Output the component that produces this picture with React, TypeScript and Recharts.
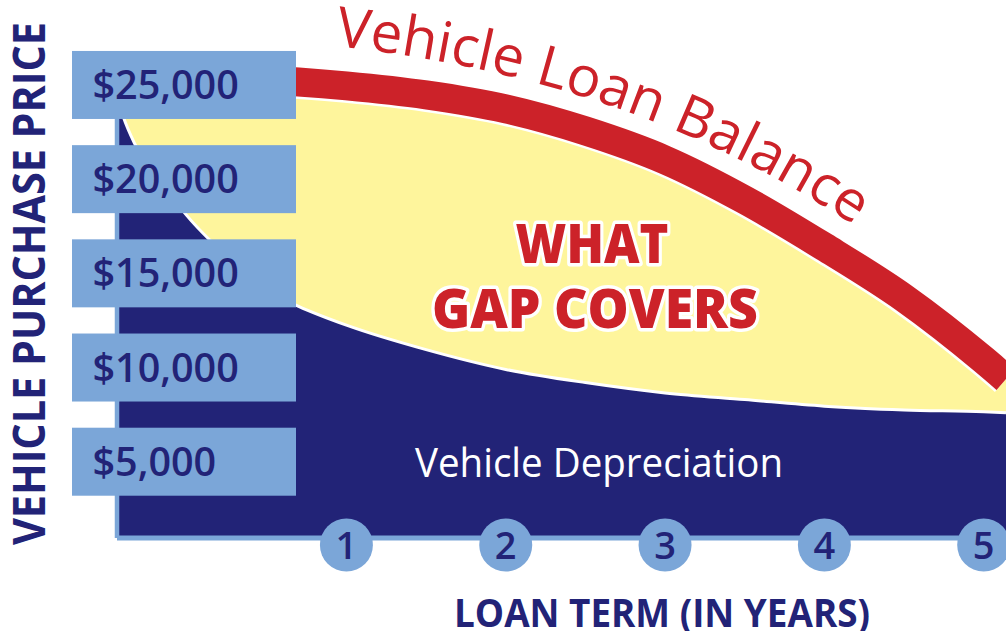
import React from 'react';
import { ComposedChart, Area, Line, XAxis, YAxis } from 'recharts';

// Loan term in years (x) and dollar values
const years = [-0.44, -0.4, -0.33, -0.17, 0, 0.25, 0.5, 0.7, 1, 1.5, 2, 2.5, 3, 3.5, 4, 4.5, 5, 5.14];
const loanBalance = [25580, 25560, 25530, 25500, 25480, 25370, 25270, 25160, 24950, 24470, 23730, 22560, 21020, 18900, 16400, 13690, 10400, 9390];
const vehicleValue = [24400, 23300, 21900, 19950, 18050, 15900, 14100, 13250, 12250, 10950, 9900, 9200, 8650, 8300, 7950, 7750, 7650, 7600];
const priceTicks = [5000, 10000, 15000, 20000, 25000];
const yearTicks = [1, 2, 3, 4, 5];

const title = 'Vehicle Loan Balance';
const gapLine1 = 'WHAT';
const gapLine2 = 'GAP COVERS';
const depreciationLabel = 'Vehicle Depreciation';
const yTitle = 'VEHICLE PURCHASE PRICE';
const xTitle = 'LOAN TERM (IN YEARS)';

const data = years.map((year, i) => ({ year, loan: loanBalance[i], value: vehicleValue[i] }));

const NAVY = '#222377';
const LIGHT = '#7BA6D8';
const YELLOW = '#FEF59C';
const RED = '#CC2229';
const FONT = "'Open Sans', 'Noto Sans', sans-serif";

const fmt = (v: number) => '$' + v.toLocaleString('en-US');

const PriceTick = (props: any) => {
  const { x, y, payload } = props;
  return (
    <g>
      <rect x={x - 45} y={y - 34} width={224} height={68} fill={LIGHT} />
      <text x={x - 24.5} y={y + 14} fontFamily={FONT} fontWeight={600} fontSize={39.5} fill={NAVY} textAnchor="start">
        {fmt(payload.value)}
      </text>
    </g>
  );
};

const YearTick = (props: any) => {
  const { x, y, payload } = props;
  return (
    <g>
      <circle cx={x} cy={y + 7} r={26.5} fill={LIGHT} />
      <text x={x} y={y + 21} fontFamily={FONT} fontWeight={600} fontSize={38} fill={NAVY} textAnchor="middle">
        {payload.value}
      </text>
    </g>
  );
};

export default function App() {
  return (
    <div style={{ position: 'absolute', left: 0, top: 0, width: 1006, height: 631, background: '#fff', overflow: 'hidden' }}>
      <ComposedChart width={1006} height={631} data={data} margin={{ top: 52, right: 0, bottom: 0, left: 0 }}>
        <Area type="monotone" dataKey="loan" fill={YELLOW} fillOpacity={1} stroke="none" isAnimationActive={false} />
        <Area type="monotone" dataKey="value" fill={NAVY} fillOpacity={1} stroke="#ffffff" strokeWidth={3} isAnimationActive={false} />
        <Line type="monotone" dataKey="loan" stroke="#ffffff" strokeWidth={34} dot={false} activeDot={false} isAnimationActive={false} />
        <Line type="monotone" dataKey="loan" stroke={RED} strokeWidth={29} dot={false} activeDot={false} isAnimationActive={false} />
        <XAxis
          type="number"
          dataKey="year"
          domain={[-0.44, 5.14]}
          allowDataOverflow
          ticks={yearTicks}
          interval={0}
          height={93}
          tickLine={false}
          tickSize={0}
          tickMargin={0}
          axisLine={{ stroke: LIGHT, strokeWidth: 5 }}
          tick={<YearTick />}
        />
        <YAxis
          type="number"
          domain={[950, 26750]}
          allowDataOverflow
          ticks={priceTicks}
          interval={0}
          width={117}
          tickLine={false}
          tickSize={0}
          tickMargin={0}
          axisLine={{ stroke: LIGHT, strokeWidth: 4.5 }}
          tick={<PriceTick />}
        />
      </ComposedChart>
      <svg width={1006} height={631} style={{ position: 'absolute', left: 0, top: 0, pointerEvents: 'none' }}>
        <defs>
          <path id="titlePath" d="M 335 46 C 520 66 700 120 870 236" fill="none" />
        </defs>
        <text fontFamily={FONT} fontSize={56} fill={RED}>
          <textPath href="#titlePath" textLength={555} lengthAdjust="spacingAndGlyphs">{title}</textPath>
        </text>
        <g fontFamily={FONT} fontWeight={800} fontSize={55} fill={RED} stroke="#ffffff" strokeWidth={7} strokeLinejoin="round" paintOrder="stroke" textAnchor="middle">
          <text x={592} y={263} textLength={153} lengthAdjust="spacingAndGlyphs">{gapLine1}</text>
          <text x={595} y={328} textLength={326} lengthAdjust="spacingAndGlyphs">{gapLine2}</text>
        </g>
        <text x={415} y={477} fontFamily={FONT} fontSize={40} fill="#ffffff" textLength={368} lengthAdjust="spacingAndGlyphs">
          {depreciationLabel}
        </text>
        <text transform="translate(45 283.5) rotate(-90)" x={0} y={0} textAnchor="middle" fontFamily={FONT} fontWeight={700} fontSize={45} fill={NAVY} textLength={523} lengthAdjust="spacingAndGlyphs">
          {yTitle}
        </text>
        <text x={662} y={627} textAnchor="middle" fontFamily={FONT} fontWeight={700} fontSize={40} fill={NAVY} textLength={416} lengthAdjust="spacingAndGlyphs">
          {xTitle}
        </text>
      </svg>
    </div>
  );
}
